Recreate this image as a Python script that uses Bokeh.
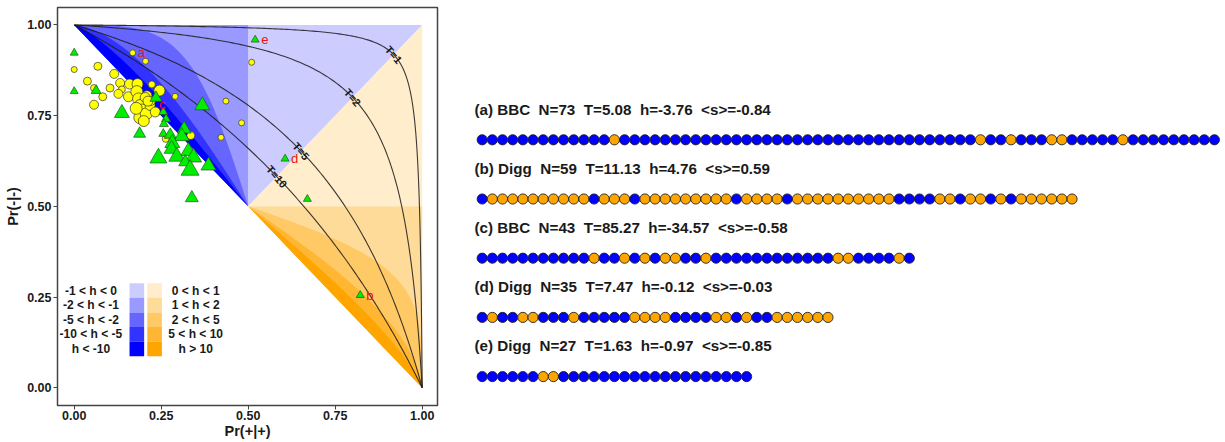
import numpy as np
from bokeh.plotting import figure
from bokeh.layouts import row
from bokeh.models import Range1d, FixedTicker, NumeralTickFormatter, ColumnDataSource
from bokeh.core.properties import value
from bokeh.embed import file_html
from bokeh.resources import INLINE

FONT = "Liberation Sans"

# ---------------- phase diagram: observed threads ----------------
# yellow circles (Pr(+|+), Pr(-|-), marker size)
yellow_p = [0.168, 0.205, 0.000, 0.068, 0.115, 0.038, 0.057, 0.082, 0.057, 0.103,
            0.132, 0.137, 0.127, 0.159, 0.182, 0.156, 0.180, 0.185, 0.209, 0.223,
            0.245, 0.190, 0.195, 0.190, 0.207, 0.218, 0.233, 0.290, 0.335, 0.263,
            0.436, 0.481, 0.422, 0.510, 0.204, 0.220, 0.178, 0.200, 0.212]
yellow_q = [0.923, 0.900, 0.877, 0.886, 0.865, 0.845, 0.826, 0.802, 0.780, 0.826,
            0.840, 0.822, 0.810, 0.837, 0.837, 0.802, 0.816, 0.796, 0.805, 0.836,
            0.819, 0.778, 0.764, 0.745, 0.755, 0.778, 0.760, 0.803, 0.695, 0.686,
            0.790, 0.730, 0.690, 0.897, 0.800, 0.790, 0.770, 0.735, 0.790]
yellow_size = [6, 6, 6, 8, 9, 8, 7, 8, 9, 8,
               9, 7, 9, 10, 11, 10, 12, 12, 10, 7,
               11, 12, 13, 13, 12, 10, 10, 6, 8, 7,
               6, 6, 6, 6, 10, 9, 12, 11, 10]

# green triangles (Pr(+|+), Pr(-|-), marker size)
green_p = [0.000, 0.000, 0.063, 0.137, 0.188, 0.235, 0.256, 0.264, 0.258, 0.256,
           0.276, 0.316, 0.309, 0.282, 0.280, 0.242, 0.295, 0.328, 0.343, 0.319,
           0.333, 0.386, 0.368, 0.338, 0.520, 0.606, 0.670, 0.822]
green_q = [0.923, 0.817, 0.819, 0.757, 0.700, 0.799, 0.760, 0.741, 0.727, 0.700,
           0.697, 0.713, 0.693, 0.674, 0.658, 0.633, 0.637, 0.652, 0.635, 0.622,
           0.600, 0.612, 0.778, 0.523, 0.959, 0.631, 0.520, 0.255]
green_size = [8, 8, 10, 15, 12, 12, 9, 9, 9, 9,
              12, 14, 15, 15, 15, 17, 16, 15, 16, 13,
              18, 15, 15, 13, 8, 8, 8, 8]

# highlighted example threads
ex_names = ["a", "b", "c", "d", "e"]
ex_p = [0.168, 0.822, 0.235, 0.606, 0.520]
ex_q = [0.923, 0.255, 0.799, 0.631, 0.959]

# iso-temperature curves and the point where each crosses Pr(+|+) = Pr(-|-)
t_values = [1, 2, 5, 10]
t_cross = [0.918, 0.800, 0.652, 0.582]

# field bands
h_neg_bounds = [-2, -5, -10]
h_pos_bounds = [2, 5, 10]
neg_labels = ["-1 < h < 0", "-2 < h < -1", "-5 < h < -2", "-10 < h < -5", "h < -10"]
pos_labels = ["0 < h < 1", "1 < h < 2", "2 < h < 5", "5 < h < 10", "h > 10"]
blue_shades = ["#ccccff", "#9999ff", "#6666ff", "#3333ff", "#0000ff"]
orange_shades = ["#ffedcc", "#ffdb99", "#ffc966", "#ffb733", "#ffa500"]

# ---------------- example sequences ----------------
seq_titles = [
    "(a) BBC  N=73  T=5.08  h=-3.76  <s>=-0.84",
    "(b) Digg  N=59  T=11.13  h=4.76  <s>=0.59",
    "(c) BBC  N=43  T=85.27  h=-34.57  <s>=-0.58",
    "(d) Digg  N=35  T=7.47  h=-0.12  <s>=-0.03",
    "(e) Digg  N=27  T=1.63  h=-0.97  <s>=-0.85",
]
seq_a = "-------------+-----------------------------------+--+---++-----+---------"
seq_b = "-++++++++++-+++-+++++++++-++++-++++++++++----++-++-+-++++++"
seq_c = "-----------+--+-+-++--+------------++----+-"
seq_d = "-+--++---+-----++++----++-+--++++++"
seq_e = "------++-------------------"
sequences = [seq_a, seq_b, seq_c, seq_d, seq_e]
SIGN_COLORS = {"-": "#0000ff", "+": "#ffa500"}

# shared vertical frame: both panels draw between these page rows
BORDER_TOP = 7
BORDER_BOTTOM = 37
HEIGHT = 442


def sigmoid(z):
    return 1.0 / (1.0 + np.exp(-z))


# ---------------- left panel ----------------
p = figure(width=440, height=HEIGHT, output_backend="svg", toolbar_location=None,
           x_range=Range1d(-0.048, 1.044), y_range=Range1d(-0.049, 1.048),
           min_border_left=57, min_border_right=3,
           min_border_top=BORDER_TOP, min_border_bottom=BORDER_BOTTOM)
p.xgrid.visible = False
p.ygrid.visible = False
p.outline_line_color = "#444444"
p.outline_line_width = 1.5
p.background_fill_color = "white"
p.border_fill_color = "white"

# base triangles on either side of the diagonal
xs, ys, cols = [], [], []
xs.append([0.5, 0.5, 1.0]); ys.append([0.5, 1.0, 1.0]); cols.append(blue_shades[0])
xs.append([0.5, 1.0, 1.0]); ys.append([0.5, 1.0, 0.5]); cols.append(orange_shades[0])
xs.append([0.0, 0.5, 0.5]); ys.append([1.0, 1.0, 0.5]); cols.append(blue_shades[1])
xs.append([0.5, 1.0, 1.0]); ys.append([0.5, 0.5, 0.0]); cols.append(orange_shades[1])

lg = np.linspace(-16, 0, 400)
for k, h in enumerate(h_neg_bounds):
    cp = sigmoid(lg)
    cq = sigmoid(lg * (1 - h) / (1 + h))
    xs.append(list(np.concatenate([[0.0], cp, [0.5]])))
    ys.append(list(np.concatenate([[1.0], cq, [0.5]])))
    cols.append(blue_shades[k + 2])
for k, h in enumerate(h_pos_bounds):
    cq = sigmoid(lg)
    cp = sigmoid(lg * (1 + h) / (1 - h))
    xs.append(list(np.concatenate([[1.0], cp, [0.5]])))
    ys.append(list(np.concatenate([[0.0], cq, [0.5]])))
    cols.append(orange_shades[k + 2])
p.patches(xs, ys, fill_color=cols, line_color=None)

# iso-T curves
lt = np.linspace(-15, 15, 900)
for tc in t_cross:
    c_sum = 2 * np.log(tc / (1 - tc))
    p.line(sigmoid(lt), sigmoid(c_sum - lt), line_color="#1a1a1a", line_width=1.1, line_alpha=0.85)
p.text(x=t_cross, y=t_cross, text=["T=%d" % t for t in t_values], angle=-0.86,
       text_font=value(FONT), text_font_style="bold", text_font_size="11px",
       text_color="#1a1a1a", text_align="center", text_baseline="middle")

# observed threads
p.scatter(yellow_p, yellow_q, size=yellow_size, marker="circle",
          fill_color="#ffff00", line_color="#333333", line_width=0.7)
p.scatter(green_p, green_q, size=green_size, marker="triangle",
          fill_color="#00ee00", line_color="#225522", line_width=0.7)

ex_src = ColumnDataSource(dict(x=ex_p, y=ex_q, t=ex_names,
                               dx=[5, 6, 3, 6, 6], dy=[0, 0, 7, 0, 0]))
p.text(x="x", y="y", text="t", x_offset="dx", y_offset="dy", source=ex_src,
       text_font=value(FONT), text_font_size="13px", text_color="#ee1111",
       text_align="left", text_baseline="middle")

# legend for the field bands
row_h = 0.0402
top = 0.288
ycent = [top - row_h * (i + 0.5) for i in range(5)]
p.rect(x=[0.180] * 5, y=ycent, width=0.042, height=row_h, fill_color=blue_shades, line_color=None)
p.rect(x=[0.231] * 5, y=ycent, width=0.042, height=row_h, fill_color=orange_shades, line_color=None)
p.text(x=[0.048] * 5, y=ycent, text=neg_labels, text_font=value(FONT), text_font_style="bold",
       text_font_size="12px", text_color="#1a1a1a", text_align="center", text_baseline="middle")
p.text(x=[0.349] * 5, y=ycent, text=pos_labels, text_font=value(FONT), text_font_style="bold",
       text_font_size="12px", text_color="#1a1a1a", text_align="center", text_baseline="middle")

ticks = [0, 0.25, 0.5, 0.75, 1.0]
for ax in (p.xaxis, p.yaxis):
    ax.ticker = FixedTicker(ticks=ticks)
    ax.formatter = NumeralTickFormatter(format="0.00")
    ax.axis_line_color = None
    ax.major_tick_line_color = "#444444"
    ax.major_tick_in = 0
    ax.major_tick_out = 4
    ax.minor_tick_line_color = None
    ax.major_label_text_font = FONT
    ax.major_label_text_font_style = "bold"
    ax.major_label_text_font_size = "12.5px"
    ax.major_label_text_color = "#1a1a1a"
    ax.major_label_standoff = 1
    ax.axis_label_text_font = FONT
    ax.axis_label_text_font_style = "bold"
    ax.axis_label_text_font_size = "14.5px"
    ax.axis_label_text_color = "#1a1a1a"
    ax.axis_label_standoff = 0
p.yaxis.major_label_standoff = 2
p.yaxis.axis_label_standoff = 3
p.xaxis.axis_label = "Pr(+|+)"
p.yaxis.axis_label = "Pr(-|-)"

# ---------------- right panel: sequences ----------------
# rows are 59.2 px apart, the first at page row 139.3
row_gap = 59.2
row0 = 139.3
r_top = (BORDER_TOP - row0) / row_gap
r_bot = (HEIGHT - BORDER_BOTTOM - row0) / row_gap
q = figure(width=785, height=HEIGHT, output_backend="svg", toolbar_location=None,
           x_range=Range1d(-4.1, 73.09), y_range=Range1d(r_bot, r_top),
           x_axis_location=None, y_axis_location=None,
           min_border_left=0, min_border_right=0,
           min_border_top=BORDER_TOP, min_border_bottom=BORDER_BOTTOM)
q.xgrid.visible = False
q.ygrid.visible = False
q.outline_line_color = None

cx, cy, cc = [], [], []
for r, s in enumerate(sequences):
    for i, ch in enumerate(s):
        cx.append(i)
        cy.append(r)
        cc.append(SIGN_COLORS[ch])
q.circle(x=cx, y=cy, radius=0.5, fill_color=cc, line_color="#222222", line_width=0.9)
# keep the double gaps between fields when drawn as SVG text
shown_titles = [t.replace("  ", "\u00a0\u00a0") for t in seq_titles]
q.text(x=[-0.76] * 5, y=[r - 0.52 for r in range(5)], text=shown_titles,
       text_font=value(FONT), text_font_style="bold", text_font_size="15.2px",
       text_color="#1a1a1a", text_align="left", text_baseline="middle")

layout = row(p, q)
open("out.html", "w").write(file_html(layout, INLINE))
